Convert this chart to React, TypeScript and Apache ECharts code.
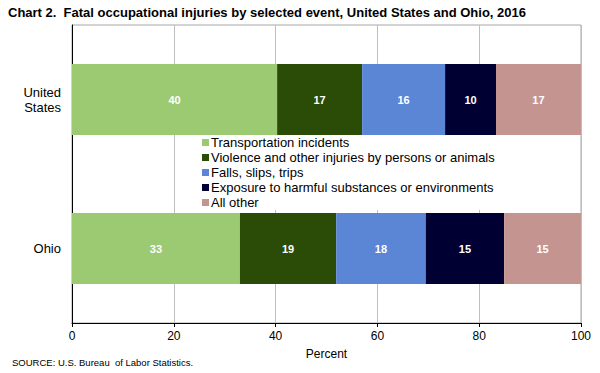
import React, { useEffect, useRef } from "react";
import * as echarts from "echarts";

const categories = ["United\nStates", "Ohio"];
const seriesNames = [
  "Transportation incidents",
  "Violence and other injuries by persons or animals",
  "Falls, slips, trips",
  "Exposure to harmful substances or environments",
  "All other",
];
const transportation = [40.3, 33.0];
const violence = [16.7, 18.9];
const falls = [16.3, 17.6];
const exposure = [10.0, 15.4];
const allOther = [16.7, 15.1];
const colors = ["#9BCA73", "#2B4C06", "#5B85D5", "#000033", "#C49490"];
const xTicks = [0, 20, 40, 60, 80, 100];

export default function App() {
  const ref = useRef<HTMLDivElement>(null);
  useEffect(() => {
    if (!ref.current) return;
    const chart = echarts.init(ref.current, null, { renderer: "svg" });
    const values = [transportation, violence, falls, exposure, allOther];
    const font = "Liberation Sans, Arial, sans-serif";
    chart.setOption({
      animation: false,
      backgroundColor: "#ffffff",
      textStyle: { fontFamily: font },
      grid: {
        left: 72,
        right: 19,
        top: 25,
        bottom: 50,
        show: true,
        borderColor: "#A6A6A6",
        borderWidth: 1,
      },
      graphic: [
        {
          type: "text",
          left: 8,
          top: 6,
          style: {
            text: "Chart 2.  Fatal occupational injuries by selected event, United States and Ohio, 2016",
            font: "bold 13px 'Liberation Sans Narrow', 'Liberation Sans', Arial, sans-serif",
            fill: "#000000",
          },
        },
        {
          type: "text",
          left: 12,
          top: 357,
          style: {
            text: "SOURCE: U.S. Bureau  of Labor Statistics.",
            font: "9.5px 'Liberation Sans Narrow', 'Liberation Sans', Arial, sans-serif",
            fill: "#000000",
          },
        },
      ],
      legend: {
        orient: "vertical",
        left: 199,
        top: 135,
        data: seriesNames,
        icon: "rect",
        itemWidth: 7,
        itemHeight: 7,
        itemGap: 2,
        padding: [1, 6, 1, 3],
        backgroundColor: "#ffffff",
        textStyle: {
          fontFamily: font,
          fontSize: 13,
          lineHeight: 13,
          color: "#000000",
          padding: [0, 0, 0, -3],
        },
      },
      xAxis: {
        type: "value",
        min: 0,
        max: 100,
        interval: 20,
        name: "Percent",
        nameLocation: "middle",
        nameGap: 25,
        nameTextStyle: { fontSize: 12, color: "#000000", fontFamily: font },
        axisLine: { show: true, lineStyle: { color: "#000000", width: 1 } },
        axisTick: { show: true, length: 4, lineStyle: { color: "#000000" } },
        axisLabel: {
          fontSize: 12,
          color: "#000000",
          margin: 7,
          formatter: (v: number) => (xTicks.includes(v) ? String(v) : ""),
        },
        splitLine: { show: true, lineStyle: { color: "#BFBFBF", width: 1 } },
      },
      yAxis: {
        type: "category",
        data: categories,
        inverse: true,
        axisLine: { show: true, lineStyle: { color: "#000000", width: 1 } },
        axisTick: { show: false },
        axisLabel: {
          fontSize: 13,
          color: "#000000",
          margin: 11,
          align: "right",
          lineHeight: 15,
        },
        splitLine: { show: false },
      },
      series: seriesNames.map((name, i) => ({
        name,
        type: "bar",
        stack: "total",
        barWidth: 71,
        data: values[i],
        itemStyle: { color: colors[i] },
        label: {
          show: true,
          position: "inside",
          color: "#ffffff",
          fontWeight: "bold",
          fontSize: 11,
          fontFamily: font,
          formatter: (p: any) => String(Math.round(p.value)),
        },
      })),
    });
    return () => chart.dispose();
  }, []);
  return <div ref={ref} style={{ width: 600, height: 373, position: "absolute", left: 0, top: 0 }} />;
}
